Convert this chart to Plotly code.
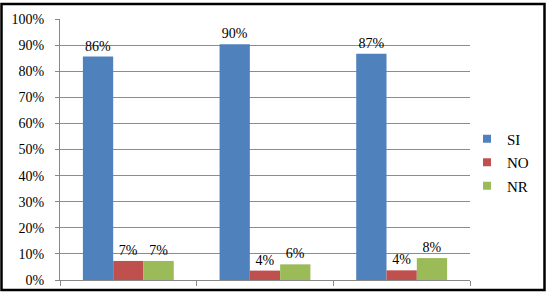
import plotly.graph_objects as go

categories = ["1", "2", "3"]
si = [85.6, 90.3, 86.7]
no = [7.3, 3.6, 3.7]
nr = [7.3, 6.0, 8.4]
series = [("SI", si, "#4F81BD"), ("NO", no, "#C0504D"), ("NR", nr, "#9BBB59")]
yticks = list(range(0, 101, 10))

FONT = "Liberation Serif"

fig = go.Figure()
for name, vals, col in series:
    fig.add_trace(go.Bar(
        x=categories, y=vals, name=name, marker_color=col,
        marker_line_width=0, showlegend=False,
        text=[f"{round(v):.0f}%" for v in vals], textposition="outside",
        textfont=dict(family=FONT, size=14, color="#000"),
        cliponaxis=False,
    ))
for name, vals, col in series:
    fig.add_trace(go.Scatter(
        x=[None], y=[None], mode="markers", name=name, legendgroup=name,
        marker=dict(symbol="square", size=8, color=col),
    ))

L, R, T, B = 60, 76, 17, 12
W, H = 546, 300
pw, ph = W - L - R, H - T - B

fig.update_layout(
    width=W, height=H, margin=dict(l=L, r=R, t=T, b=B),
    paper_bgcolor="white", plot_bgcolor="white",
    barmode="group", bargap=0.335, bargroupgap=0,
    font=dict(family=FONT, size=14, color="#000"),
    showlegend=True,
    legend=dict(x=(467 - L) / pw, y=(288 - 166) / ph, xanchor="left", yanchor="middle",
                font=dict(family=FONT, size=15), itemwidth=30, tracegroupgap=1,
                bgcolor="rgba(0,0,0,0)"),
    xaxis=dict(showticklabels=False, ticks="outside", tickson="boundaries", ticklen=5,
               tickcolor="#888", showline=True, linecolor="#888", showgrid=False,
               range=[-0.5, 2.5]),
    yaxis=dict(range=[0, 100], tickvals=yticks, ticktext=[f"{v}%" for v in yticks],
               showgrid=True, gridcolor="#8c8c8c", gridwidth=1,
               showline=True, linecolor="#888", ticks="outside", ticklen=4, tickcolor="#888",
               ticklabelstandoff=8, zeroline=False),
    shapes=[dict(type="rect", xref="paper", yref="paper",
                 x0=(1.5 - L) / pw, x1=(544.5 - L) / pw,
                 y0=(288 - 298.5) / ph, y1=(288 - 1.5) / ph,
                 line=dict(color="black", width=2.5))],
)

fig.write_html("out.html")
